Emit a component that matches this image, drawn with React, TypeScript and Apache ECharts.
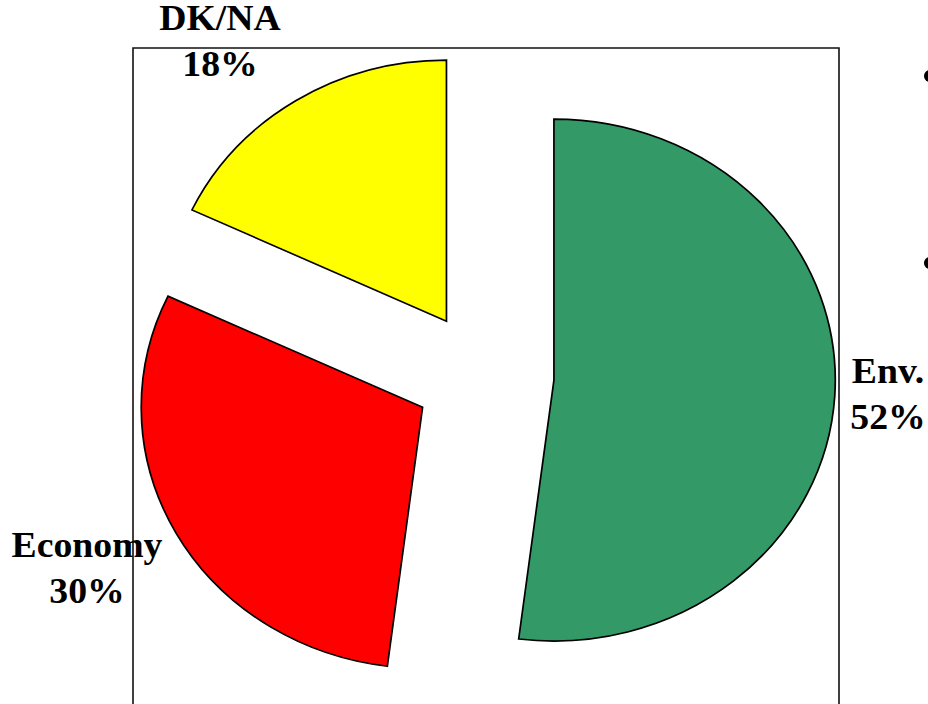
import React, { useEffect, useRef } from "react";
import * as echarts from "echarts";

const categories = ["Env.", "Economy", "DK/NA"];
const values = [52, 30, 18];
const colors = ["#339966", "#FF0000", "#FFFF00"];

export default function App() {
  const ref = useRef<HTMLDivElement>(null);
  useEffect(() => {
    const chart = echarts.init(ref.current as HTMLDivElement, null, { renderer: "svg" });
    const total = values.reduce((a, b) => a + b, 0);
    const starts: number[] = [];
    let acc = 0;
    values.forEach((v) => {
      starts.push(acc);
      acc += v;
    });
    const CX = 484;
    const CY = 376;
    const R = 261;
    const SX = 1.078;
    const EXPLODE = 65;
    const labelPos = [
      [888, 394],
      [87, 568],
      [220, 41],
    ];
    const font = "bold 35px 'Liberation Serif', 'Times New Roman', serif";

    const labels = categories.map((c, i) => ({
      type: "text",
      x: labelPos[i][0],
      y: labelPos[i][1],
      scaleX: SX,
      z: 10,
      style: {
        text: `${c}\n${values[i]}%`,
        font,
        fill: "#000",
        align: "center",
        verticalAlign: "middle",
        lineHeight: 46,
      },
    }));

    chart.setOption({
      animation: false,
      backgroundColor: "#fff",
      graphic: [
        {
          type: "rect",
          z: 0,
          shape: { x: 133, y: 48, width: 706, height: 700 },
          style: { fill: "none", stroke: "#111", lineWidth: 1.6 },
        },
        { type: "circle", z: 10, shape: { cx: 930, cy: 76, r: 6 }, style: { fill: "#000" } },
        { type: "circle", z: 10, shape: { cx: 930, cy: 263, r: 6 }, style: { fill: "#000" } },
        ...labels,
      ],
      series: [
        {
          type: "custom",
          coordinateSystem: "none",
          z: 5,
          data: values.map((v, i) => ({ value: v, name: categories[i] })),
          renderItem: (params: any, api: any) => {
            const i = params.dataIndex;
            const v = api.value(0) as number;
            const a0 = -Math.PI / 2 + (starts[i] / total) * 2 * Math.PI;
            const a1 = a0 + (v / total) * 2 * Math.PI;
            const mid = (a0 + a1) / 2;
            return {
              type: "group",
              x: CX,
              y: CY,
              scaleX: SX,
              children: [
                {
                  type: "sector",
                  shape: {
                    cx: EXPLODE * Math.cos(mid),
                    cy: EXPLODE * Math.sin(mid),
                    r: R,
                    r0: 0,
                    startAngle: a0,
                    endAngle: a1,
                    clockwise: true,
                  },
                  style: {
                    fill: colors[i],
                    stroke: "#000",
                    lineWidth: 1.6,
                    strokeNoScale: true,
                  },
                },
              ],
            };
          },
        },
      ],
    });
    return () => chart.dispose();
  }, []);
  return (
    <div
      ref={ref}
      style={{ position: "absolute", left: 0, top: 0, width: 928, height: 704 }}
    />
  );
}
